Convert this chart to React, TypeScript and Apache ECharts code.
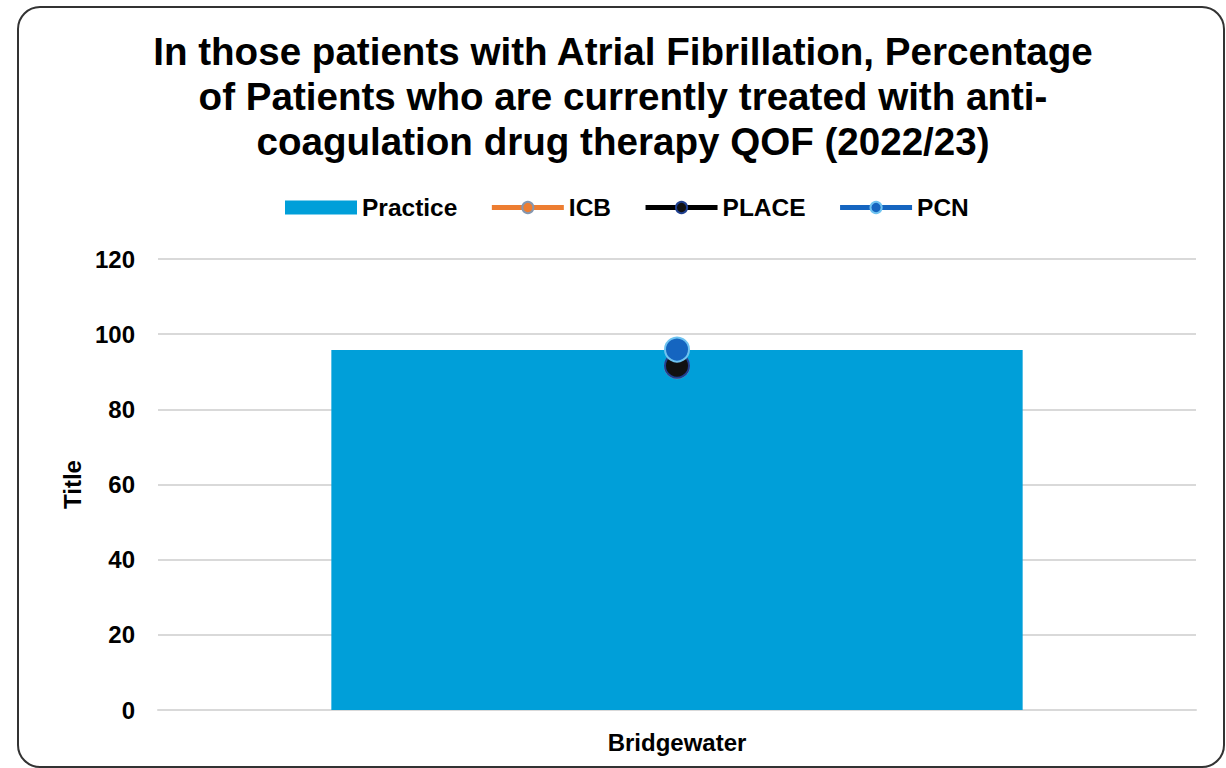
import React, { useEffect, useRef } from "react";
import * as echarts from "echarts";

const titleText =
  "In those patients with Atrial Fibrillation, Percentage\nof Patients who are currently treated with anti-\ncoagulation drug therapy QOF (2022/23)";
const categories = ["Bridgewater"];
const practiceValues = [95.8];
const icbValues = [91.5];
const placeValues = [91.6];
const pcnValues = [95.9];
const yTicks = { min: 0, max: 120, interval: 20 };

const FONT = "Liberation Sans, Arial, sans-serif";

export default function App() {
  const ref = useRef<HTMLDivElement>(null);
  useEffect(() => {
    const chart = echarts.init(ref.current!, null, { renderer: "svg" });
    const lineSeries = (name: string, data: number[], lineColor: string, fill: string, border: string) => ({
      name,
      type: "line",
      data,
      symbol: "circle",
      symbolSize: 24,
      lineStyle: { color: lineColor, width: 5 },
      itemStyle: { color: fill, borderColor: border, borderWidth: 2 },
      z: 5,
    });
    const legendLine = (name: string, lineColor: string, fill: string, border: string) => ({
      name,
      itemStyle: { color: fill, borderColor: border, borderWidth: 2 },
      lineStyle: { color: lineColor, width: 5 },
    });
    chart.setOption({
      animation: false,
      backgroundColor: "#ffffff",
      textStyle: { fontFamily: FONT },
      title: {
        text: titleText,
        left: 618,
        top: 24,
        textAlign: "center",
        textStyle: { fontFamily: FONT, fontSize: 38.6, fontWeight: "bold", color: "#000", lineHeight: 45 },
      },
      legend: {
        top: 190,
        left: 280,
        itemWidth: 72,
        itemHeight: 14,
        itemGap: 32,
        textStyle: { fontFamily: FONT, fontSize: 24.5, fontWeight: "bold", color: "#000" },
        data: [
          { name: "Practice", icon: "rect" },
          legendLine("ICB", "#ed7d31", "#ed7d31", "#8497b0"),
          legendLine("PLACE", "#000000", "#111111", "#1f3f8f"),
          legendLine("PCN", "#1565c0", "#1565c0", "#6fc3f0"),
        ],
      },
      grid: { left: 158, right: 30, top: 259, bottom: 58, containLabel: false },
      xAxis: {
        type: "category",
        data: categories,
        axisLine: { show: true, lineStyle: { color: "#d9d9d9", width: 2 } },
        axisTick: { show: false },
        axisLabel: { fontFamily: FONT, fontSize: 24, fontWeight: "bold", color: "#000", margin: 20 },
      },
      yAxis: {
        type: "value",
        min: yTicks.min,
        max: yTicks.max,
        interval: yTicks.interval,
        name: "Title",
        nameLocation: "middle",
        nameGap: 74,
        nameRotate: 90,
        nameTextStyle: { fontFamily: FONT, fontSize: 24, fontWeight: "bold", color: "#000" },
        axisLine: { show: false },
        axisTick: { show: false },
        axisLabel: { fontFamily: FONT, fontSize: 24, fontWeight: "bold", color: "#000", margin: 23 },
        splitLine: { lineStyle: { color: "#d9d9d9", width: 2 } },
      },
      series: [
        {
          name: "Practice",
          type: "bar",
          data: practiceValues,
          barWidth: "66.6%",
          itemStyle: { color: "#009fd9" },
          z: 2,
        },
        lineSeries("ICB", icbValues, "#ed7d31", "#ed7d31", "#8497b0"),
        lineSeries("PLACE", placeValues, "#000000", "#111111", "#1f3f8f"),
        lineSeries("PCN", pcnValues, "#1565c0", "#1565c0", "#6fc3f0"),
      ],
      graphic: [
        {
          type: "rect",
          shape: { x: 18, y: 7, width: 1206, height: 760, r: 22 },
          style: { fill: "none", stroke: "#333", lineWidth: 2 },
          silent: true,
          z: 100,
        },
      ],
    });
    return () => chart.dispose();
  }, []);
  return (
    <div
      ref={ref}
      style={{ position: "absolute", left: 0, top: 0, width: 1226, height: 768 }}
    />
  );
}
